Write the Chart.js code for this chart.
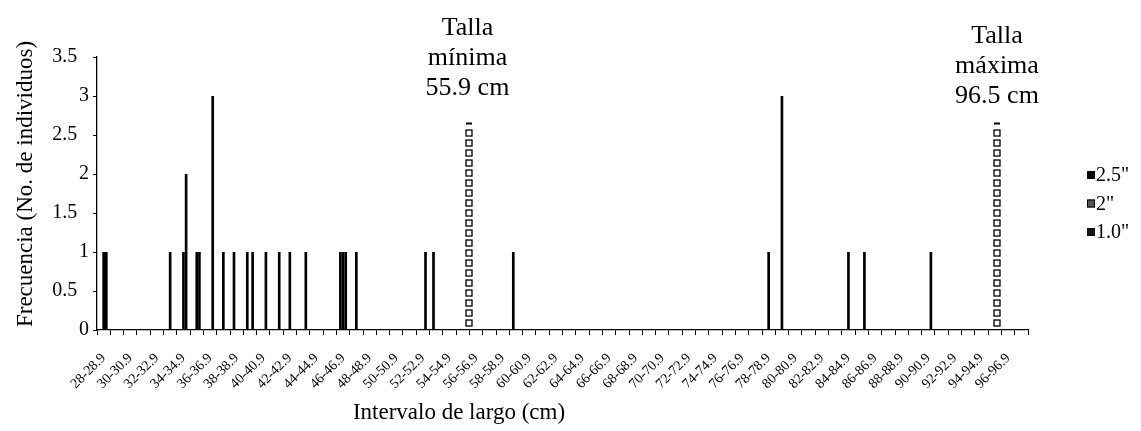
<!DOCTYPE html>
<html><head><meta charset="utf-8">
<script src="https://cdn.jsdelivr.net/npm/chart.js@4.4.0/dist/chart.umd.min.js"></script>
<style>html,body{margin:0;padding:0;background:#fff;}#wrap{width:1141px;height:431px;position:relative;}</style>
</head><body><div id="wrap"><canvas id="c"></canvas></div>
<script>
// ---- DATA ----
const categories = [
 "28-28.9","29-29.9","30-30.9","31-31.9","32-32.9","33-33.9","34-34.9","35-35.9","36-36.9","37-37.9",
 "38-38.9","39-39.9","40-40.9","41-41.9","42-42.9","43-43.9","44-44.9","45-45.9","46-46.9","47-47.9",
 "48-48.9","49-49.9","50-50.9","51-51.9","52-52.9","53-53.9","54-54.9","55-55.9","56-56.9","57-57.9",
 "58-58.9","59-59.9","60-60.9","61-61.9","62-62.9","63-63.9","64-64.9","65-65.9","66-66.9","67-67.9",
 "68-68.9","69-69.9","70-70.9","71-71.9","72-72.9","73-73.9","74-74.9","75-75.9","76-76.9","77-77.9",
 "78-78.9","79-79.9","80-80.9","81-81.9","82-82.9","83-83.9","84-84.9","85-85.9","86-86.9","87-87.9",
 "88-88.9","89-89.9","90-90.9","91-91.9","92-92.9","93-93.9","94-94.9","95-95.9","96-96.9","97-97.9"
];
const categoryStart = 28;
const seriesNames = ['2.5"', '2"', '1.0"'];
const mesh25 = [
 0,0,0,0,0,0,0,0,0,0,
 1,1,0,0,0,0,0,0,1,0,
 0,0,0,0,0,1,0,0,0,0,
 0,1,0,0,0,0,0,0,0,0,
 0,0,0,0,0,0,0,0,0,0,
 0,0,0,0,0,0,0,0,0,0,
 0,0,0,0,0,0,0,0,0,0
];
const mesh20 = [
 1,0,0,0,0,1,1,1,0,1,
 0,0,0,0,1,0,0,0,1,1,
 0,0,0,0,0,0,0,0,0,0,
 0,0,0,0,0,0,0,0,0,0,
 0,0,0,0,0,0,0,0,0,0,
 1,3,0,0,0,0,1,0,0,0,
 0,0,0,0,0,0,0,0,0,0
];
const mesh10 = [
 1,0,0,0,0,0,2,1,3,0,
 0,1,1,1,0,1,0,0,1,0,
 0,0,0,0,1,0,0,0,0,0,
 0,0,0,0,0,0,0,0,0,0,
 0,0,0,0,0,0,0,0,0,0,
 0,0,0,0,0,0,0,1,0,0,
 0,0,1,0,0,0,0,0,0,0
];
const yMin = 0, yMax = 3.5, yStep = 0.5;
const markerPositions = [56.0, 95.7];   // cm, as placed in the picture
const markerHeights = [2.66, 2.66];
const markerLabels = [["Talla","mínima","55.9 cm"],["Talla","máxima","96.5 cm"]];
const yTitle = "Frecuencia (No. de individuos)";
const xTitle = "Intervalo de largo (cm)";

// ---- STYLE ----
const SERIF = '"Liberation Serif", "Times New Roman", serif';
Chart.defaults.font.family = SERIF;
Chart.defaults.color = '#000';

const markerPlugin = {
  id: 'markers',
  afterDatasetsDraw(chart) {
    const {ctx, scales:{x, y}} = chart;
    const textDx = [-1.5, 0];
    const textRise = [88, 80];
    ctx.save();
    markerPositions.forEach((v, i) => {
      const px = Math.round(x.getPixelForValue(v - categoryStart - 0.5));
      const top = y.getPixelForValue(markerHeights[i]);
      const base = y.getPixelForValue(0);
      ctx.fillStyle = '#000';
      ctx.fillRect(px - 3, top, 6, 2);
      ctx.lineWidth = 1.3;
      ctx.strokeStyle = '#000';
      for (let yy = top + 7.5; yy + 6 <= base; yy += 10) {
        ctx.fillStyle = '#fff';
        ctx.fillRect(px - 3, yy, 6, 6);
        ctx.strokeRect(px - 3, yy, 6, 6);
      }
      ctx.fillStyle = '#000';
      ctx.font = '26px ' + SERIF;
      ctx.textAlign = 'center';
      ctx.textBaseline = 'alphabetic';
      markerLabels[i].forEach((t, k) => ctx.fillText(t, px + textDx[i], top - textRise[i] + k * 30));
    });
    ctx.restore();
  }
};

const decorPlugin = {
  id: 'decor',
  afterDraw(chart) {
    const ctx = chart.ctx;
    ctx.save();
    ctx.fillStyle = '#000';
    ctx.font = '23px ' + SERIF;
    ctx.textBaseline = 'middle';
    ctx.textAlign = 'center';
    ctx.save();
    ctx.translate(26, 184);
    ctx.rotate(-Math.PI / 2);
    ctx.fillText(yTitle, 0, 0);
    ctx.restore();
    ctx.textBaseline = 'alphabetic';
    ctx.fillText(xTitle, 459, 419);
    // legend
    ctx.font = '20px ' + SERIF;
    ctx.textAlign = 'left';
    ctx.textBaseline = 'middle';
    const fills = ['#000', '#555', '#111'];
    seriesNames.forEach((n, k) => {
      const cy = 175 + k * 28.5;
      ctx.fillStyle = fills[k];
      ctx.fillRect(1087, cy - 4, 8, 8);
      if (k === 1) { ctx.strokeStyle = '#000'; ctx.lineWidth = 1; ctx.strokeRect(1087.5, cy - 3.5, 7, 7); }
      ctx.fillStyle = '#000';
      ctx.fillText(n, 1096, cy + 1);
    });
    ctx.restore();
  }
};

const barOpts = {barPercentage: 1.0, categoryPercentage: 0.6, borderWidth: 0};
new Chart(document.getElementById('c'), {
  type: 'bar',
  data: {
    labels: categories,
    datasets: [
      Object.assign({label: seriesNames[0], data: mesh25, backgroundColor: '#000'}, barOpts),
      Object.assign({label: seriesNames[1], data: mesh20, backgroundColor: '#000'}, barOpts),
      Object.assign({label: seriesNames[2], data: mesh10, backgroundColor: '#000'}, barOpts)
    ]
  },
  options: {
    responsive: true, maintainAspectRatio: false, animation: false,
    layout: {padding: {left: 0, right: 113, top: 57, bottom: 0}},
    plugins: {legend: {display: false}, tooltip: {enabled: false}},
    scales: {
      x: {
        afterFit(s) { s.height = 101; },
        grid: {display: true, drawOnChartArea: false, drawTicks: true, tickLength: 5, color: '#000', lineWidth: 1},
        border: {display: true, color: '#000', width: 1.3},
        ticks: {
          autoSkip: false, minRotation: 45, maxRotation: 45, padding: 15,
          font: {size: 14, family: SERIF}, color: '#000',
          callback(v, i) { return i % 2 === 0 ? categories[i] : ''; }
        }
      },
      y: {
        min: yMin, max: yMax,
        afterFit(s) { s.width = 97; },
        grid: {display: true, drawOnChartArea: false, drawTicks: true, tickLength: 4, color: '#000', lineWidth: 1},
        border: {display: true, color: '#000', width: 1.3},
        ticks: {
          stepSize: yStep, padding: 4, font: {size: 20, family: SERIF}, color: '#000',
          callback(v) { return Number.isInteger(v) ? String(v) : v + '\u2002\u200A'; }
        }
      }
    }
  },
  plugins: [markerPlugin, decorPlugin]
});
</script></body></html>
